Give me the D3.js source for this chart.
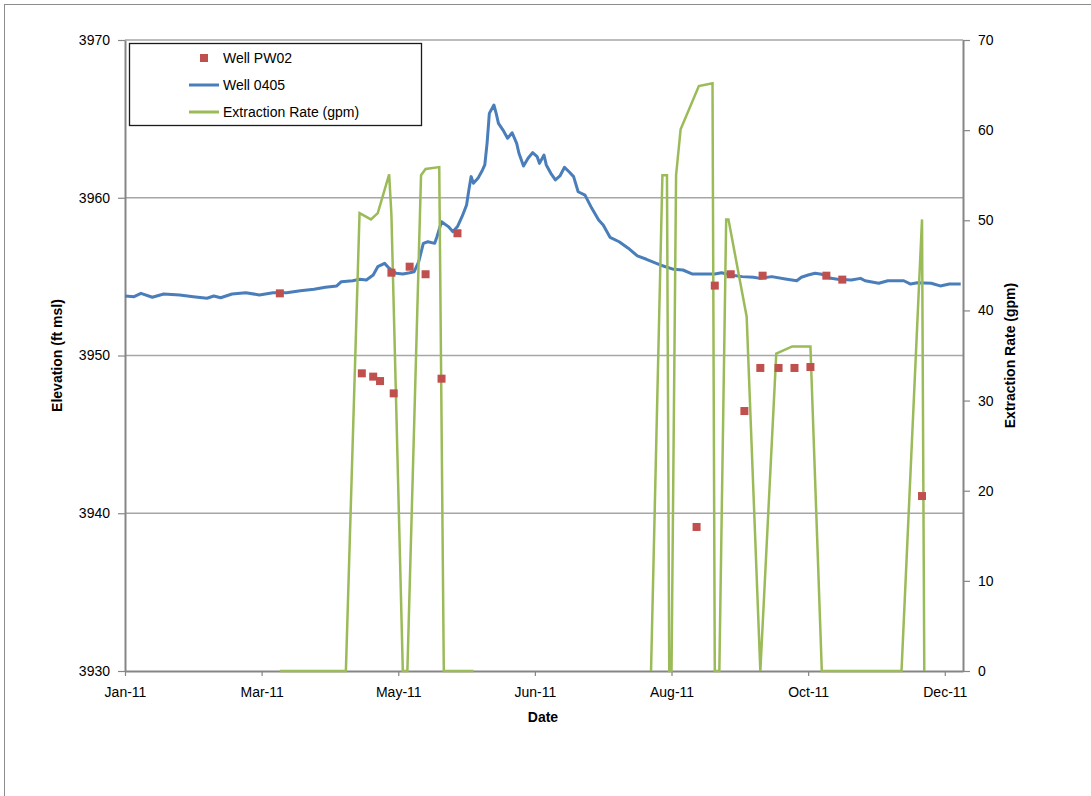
<!DOCTYPE html>
<html>
<head>
<meta charset="utf-8">
<script src="https://cdn.jsdelivr.net/npm/d3@7"></script>
<style>
  body { margin: 0; background: #fff; }
  text { font-family: "Liberation Sans", Arial, sans-serif; fill: #000; }
</style>
</head>
<body>
<div id="wrapper"></div>
<script>
// Well 0405 elevation (ft msl)
const well0405 = [
  ["2011-01-01", 3953.77], ["2011-01-05", 3953.73], ["2011-01-08", 3953.94], ["2011-01-13", 3953.69],
  ["2011-01-18", 3953.90], ["2011-01-25", 3953.84], ["2011-01-31", 3953.73], ["2011-02-06", 3953.63],
  ["2011-02-09", 3953.77], ["2011-02-12", 3953.66], ["2011-02-17", 3953.90], ["2011-02-23", 3953.98],
  ["2011-03-01", 3953.84], ["2011-03-07", 3953.98], ["2011-03-13", 3953.98], ["2011-03-19", 3954.11],
  ["2011-03-25", 3954.20], ["2011-03-30", 3954.32], ["2011-04-04", 3954.41], ["2011-04-06", 3954.68],
  ["2011-04-11", 3954.74], ["2011-04-14", 3954.83], ["2011-04-17", 3954.79], ["2011-04-20", 3955.10],
  ["2011-04-22", 3955.63], ["2011-04-25", 3955.84], ["2011-04-27", 3955.53], ["2011-04-30", 3955.21],
  ["2011-05-03", 3955.17], ["2011-05-06", 3955.25], ["2011-05-08", 3955.31], ["2011-05-10", 3955.95],
  ["2011-05-12", 3957.11], ["2011-05-14", 3957.21], ["2011-05-17", 3957.11], ["2011-05-18", 3957.53],
  ["2011-05-20", 3958.48], ["2011-05-23", 3958.17], ["2011-05-25", 3957.85], ["2011-05-27", 3958.17],
  ["2011-05-29", 3958.80], ["2011-05-31", 3959.54], ["2011-06-01", 3960.49], ["2011-06-02", 3961.34],
  ["2011-06-03", 3960.92], ["2011-06-05", 3961.23], ["2011-06-07", 3961.76], ["2011-06-08", 3962.08],
  ["2011-06-09", 3963.45], ["2011-06-10", 3965.35], ["2011-06-12", 3965.88], ["2011-06-13", 3965.35],
  ["2011-06-14", 3964.72], ["2011-06-16", 3964.29], ["2011-06-18", 3963.77], ["2011-06-20", 3964.12],
  ["2011-06-22", 3963.45], ["2011-06-23", 3962.82], ["2011-06-25", 3962.01], ["2011-06-27", 3962.50],
  ["2011-06-29", 3962.86], ["2011-07-01", 3962.60], ["2011-07-02", 3962.18], ["2011-07-04", 3962.71],
  ["2011-07-05", 3962.08], ["2011-07-07", 3961.55], ["2011-07-09", 3961.13], ["2011-07-11", 3961.38],
  ["2011-07-13", 3961.93], ["2011-07-15", 3961.65], ["2011-07-17", 3961.34], ["2011-07-19", 3960.38],
  ["2011-07-22", 3960.17], ["2011-07-25", 3959.33], ["2011-07-28", 3958.59], ["2011-07-30", 3958.27],
  ["2011-08-02", 3957.49], ["2011-08-06", 3957.21], ["2011-08-10", 3956.80], ["2011-08-14", 3956.31],
  ["2011-08-18", 3956.10], ["2011-08-24", 3955.74], ["2011-08-30", 3955.46], ["2011-09-03", 3955.42],
  ["2011-09-07", 3955.17], ["2011-09-13", 3955.17], ["2011-09-17", 3955.17], ["2011-09-20", 3955.25],
  ["2011-09-24", 3955.10], ["2011-09-29", 3955.00], ["2011-10-04", 3954.96], ["2011-10-07", 3954.89],
  ["2011-10-12", 3955.00], ["2011-10-18", 3954.85], ["2011-10-23", 3954.74], ["2011-10-25", 3954.96],
  ["2011-10-28", 3955.10], ["2011-10-31", 3955.21], ["2011-11-03", 3955.15], ["2011-11-07", 3954.89],
  ["2011-11-10", 3954.83], ["2011-11-16", 3954.79], ["2011-11-20", 3954.89], ["2011-11-22", 3954.74],
  ["2011-11-28", 3954.58], ["2011-12-02", 3954.74], ["2011-12-09", 3954.74], ["2011-12-12", 3954.53],
  ["2011-12-15", 3954.61], ["2011-12-21", 3954.58], ["2011-12-25", 3954.41], ["2011-12-29", 3954.53],
  ["2012-01-03", 3954.53]
]

// Well PW02 elevation (ft msl)
const wellPW02 = [
  ["2011-03-10", 3953.94], ["2011-04-15", 3948.87], ["2011-04-20", 3948.66], ["2011-04-23", 3948.38],
  ["2011-04-28", 3955.25], ["2011-04-29", 3947.60], ["2011-05-06", 3955.63], ["2011-05-13", 3955.15],
  ["2011-05-20", 3948.53], ["2011-05-27", 3957.75], ["2011-09-09", 3939.13], ["2011-09-17", 3954.43],
  ["2011-09-24", 3955.15], ["2011-09-30", 3946.48], ["2011-10-07", 3949.21], ["2011-10-08", 3955.06],
  ["2011-10-15", 3949.21], ["2011-10-22", 3949.21], ["2011-10-29", 3949.27], ["2011-11-05", 3955.06],
  ["2011-11-12", 3954.81], ["2011-12-17", 3941.09]
]

// Extraction rate (gpm), null = no data (line breaks)
const extraction = [
  ["2011-03-10", 0], ["2011-04-08", 0], ["2011-04-14", 50.8], ["2011-04-19", 50.1],
  ["2011-04-22", 50.8], ["2011-04-27", 55.1], ["2011-04-28", 50.6], ["2011-05-03", 0],
  ["2011-05-05", 0], ["2011-05-11", 55.0], ["2011-05-13", 55.7], ["2011-05-19", 55.9],
  ["2011-05-21", 0], ["2011-06-03", 0], ["2011-07-15", null],
  ["2011-08-20", 0], ["2011-08-25", 55.0], ["2011-08-27", 55.0], ["2011-08-28", 0],
  ["2011-08-29", 0], ["2011-08-31", 55.0], ["2011-09-02", 60.1], ["2011-09-10", 64.9],
  ["2011-09-16", 65.2], ["2011-09-17", 0], ["2011-09-19", 0], ["2011-09-22", 50.1],
  ["2011-09-23", 50.1], ["2011-10-01", 39.3], ["2011-10-07", 0], ["2011-10-14", 35.2],
  ["2011-10-21", 36.0], ["2011-10-29", 36.0], ["2011-11-03", 0], ["2011-12-08", 0],
  ["2011-12-17", 50.1], ["2011-12-18", 0]
]

const elevTicks = [3930, 3940, 3950, 3960, 3970]
const rateTicks = [0, 10, 20, 30, 40, 50, 60, 70]
const dateTicks = ["2011-01-01", "2011-03-02", "2011-05-01", "2011-06-30", "2011-08-29", "2011-10-28", "2011-12-27"]
const dateRange = ["2011-01-01", "2012-01-04"]
const seriesNames = ["Well PW02", "Well 0405", "Extraction Rate (gpm)"]

const colors = { pw02: "#c0504d", well: "#4a7ebb", rate: "#9bbb59", axis: "#868686", grid: "#a6a6a6" }

function drawChart() {
  const parseDate = d3.utcParse("%Y-%m-%d")
  const width = 1091
  const height = 796

  const dimensions = {
    width: width,
    height: height,
    margin: { top: 40, right: 128, bottom: 125, left: 125 }
  }
  dimensions.boundedWidth = dimensions.width - dimensions.margin.left - dimensions.margin.right
  dimensions.boundedHeight = dimensions.height - dimensions.margin.top - dimensions.margin.bottom

  const left = dimensions.margin.left
  const right = dimensions.margin.left + dimensions.boundedWidth
  const top = dimensions.margin.top
  const bottom = dimensions.margin.top + dimensions.boundedHeight

  const xScale = d3.scaleUtc()
    .domain(dateRange.map(parseDate))
    .range([left, right])

  const yElev = d3.scaleLinear()
    .domain([3930, 3970])
    .range([bottom, top])

  const yRate = d3.scaleLinear()
    .domain([0, 70])
    .range([bottom, top])

  const svg = d3.select("#wrapper")
    .append("svg")
      .attr("width", width)
      .attr("height", height)

  // chart frame
  svg.append("rect")
    .attr("x", 4.5).attr("y", 4.5)
    .attr("width", width + 10).attr("height", height + 10)
    .attr("fill", "#fff")
    .attr("stroke", "#8c8c8c")
    .attr("stroke-width", 1)

  // gridlines
  svg.append("g")
    .selectAll("line")
    .data(elevTicks.slice(1))
    .enter().append("line")
      .attr("x1", left).attr("x2", right)
      .attr("y1", d => yElev(d)).attr("y2", d => yElev(d))
      .attr("stroke", colors.grid)
      .attr("stroke-width", 1.5)

  // axes
  const styleAxis = g => {
    g.select(".domain").attr("stroke", colors.axis).attr("stroke-width", 2)
    g.selectAll(".tick line").attr("stroke", colors.axis).attr("stroke-width", 1.2)
    g.selectAll("text").style("font-size", "14px").attr("fill", "#000")
  }

  svg.append("g")
    .attr("transform", `translate(${left},0)`)
    .call(d3.axisLeft(yElev).tickValues(elevTicks).tickFormat(d3.format("d"))
      .tickSize(7).tickSizeOuter(0).tickPadding(8))
    .call(styleAxis)

  svg.append("g")
    .attr("transform", `translate(${right},0)`)
    .call(d3.axisRight(yRate).tickValues(rateTicks).tickFormat(d3.format("d"))
      .tickSize(7).tickSizeOuter(0).tickPadding(8))
    .call(styleAxis)

  svg.append("g")
    .attr("transform", `translate(0,${bottom})`)
    .call(d3.axisBottom(xScale)
      .tickValues(dateTicks.map(parseDate))
      .tickFormat(d3.utcFormat("%b-%y"))
      .tickSize(5).tickSizeOuter(0).tickPadding(11))
    .call(styleAxis)

  // axis titles
  svg.append("text")
    .attr("transform", `translate(62,${(top + bottom) / 2}) rotate(-90)`)
    .attr("text-anchor", "middle")
    .style("font-size", "14px").style("font-weight", "bold")
    .text("Elevation (ft msl)")

  svg.append("text")
    .attr("transform", `translate(1015,${(top + bottom) / 2}) rotate(-90)`)
    .attr("text-anchor", "middle")
    .style("font-size", "14px").style("font-weight", "bold")
    .text("Extraction Rate (gpm)")

  svg.append("text")
    .attr("x", (left + right) / 2 - 1)
    .attr("y", 722)
    .attr("text-anchor", "middle")
    .style("font-size", "14px").style("font-weight", "bold")
    .text("Date")

  // series
  const wellLine = d3.line()
    .x(d => xScale(parseDate(d[0])))
    .y(d => yElev(d[1]))

  svg.append("path")
    .datum(well0405)
    .attr("d", wellLine)
    .attr("fill", "none")
    .attr("stroke", colors.well)
    .attr("stroke-width", 3)
    .attr("stroke-linejoin", "round")

  const rateLine = d3.line()
    .defined(d => d[1] !== null)
    .x(d => xScale(parseDate(d[0])))
    .y(d => yRate(d[1]))

  svg.append("path")
    .datum(extraction)
    .attr("d", rateLine)
    .attr("fill", "none")
    .attr("stroke", colors.rate)
    .attr("stroke-width", 2.5)

  const sq = 8
  svg.append("g")
    .selectAll("rect")
    .data(wellPW02)
    .enter().append("rect")
      .attr("x", d => xScale(parseDate(d[0])) - sq / 2)
      .attr("y", d => yElev(d[1]) - sq / 2)
      .attr("width", sq)
      .attr("height", sq)
      .attr("fill", colors.pw02)

  // legend
  const legend = svg.append("g")
  legend.append("rect")
    .attr("x", 129.5).attr("y", 43.5)
    .attr("width", 292).attr("height", 82)
    .attr("fill", "#fff")
    .attr("stroke", "#1a1a1a")
    .attr("stroke-width", 1.3)

  const rowY = [58, 85, 112]
  legend.append("rect")
    .attr("x", 200).attr("y", rowY[0] - 4)
    .attr("width", 8).attr("height", 8)
    .attr("fill", colors.pw02)
  legend.append("line")
    .attr("x1", 189).attr("x2", 219)
    .attr("y1", rowY[1]).attr("y2", rowY[1])
    .attr("stroke", colors.well).attr("stroke-width", 3)
  legend.append("line")
    .attr("x1", 189).attr("x2", 219)
    .attr("y1", rowY[2]).attr("y2", rowY[2])
    .attr("stroke", colors.rate).attr("stroke-width", 3)

  legend.selectAll("text.label")
    .data(seriesNames)
    .enter().append("text")
      .attr("class", "label")
      .attr("x", 223)
      .attr("y", (d, i) => rowY[i])
      .attr("dy", "0.35em")
      .style("font-size", "14px")
      .text(d => d)
}

drawChart()
</script>
</body>
</html>
